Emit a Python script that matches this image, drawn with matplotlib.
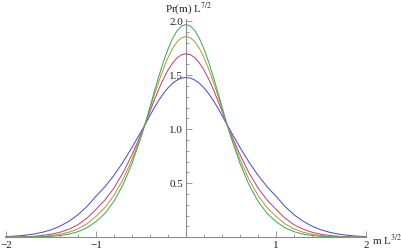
# Pr(m) curves for several sizes, Mathematica-style axes through the origin

import numpy
import matplotlib
matplotlib.use("Agg")
import matplotlib.pyplot as plt

plt.rcParams["font.family"] = ["Liberation Serif", "DejaVu Serif"]
plt.rcParams["mathtext.fontset"] = "stix"

m = [-2.0, -1.9, -1.8, -1.7, -1.6, -1.5, -1.4, -1.3, -1.2, -1.1, -1.0,
     -0.9, -0.8, -0.7, -0.6, -0.5, -0.45, -0.4, -0.35, -0.3, -0.25, -0.2,
     -0.15, -0.1, -0.05, 0.0, 0.05, 0.1, 0.15, 0.2, 0.25, 0.3, 0.35, 0.4,
     0.45, 0.5, 0.6, 0.7, 0.8, 0.9, 1.0, 1.1, 1.2, 1.3, 1.4, 1.5, 1.6, 1.7,
     1.8, 1.9, 2.0]

pr_blue = [0.0064, 0.0109, 0.018, 0.029, 0.0455, 0.069, 0.103, 0.149, 0.209,
           0.2855, 0.380, 0.469, 0.574, 0.696, 0.832, 0.977, 1.051, 1.129,
           1.203, 1.271, 1.332, 1.383, 1.425, 1.455, 1.474, 1.48, 1.474,
           1.455, 1.425, 1.383, 1.332, 1.271, 1.203, 1.129, 1.051, 0.977,
           0.832, 0.696, 0.574, 0.469, 0.380, 0.2855, 0.209, 0.149, 0.103,
           0.069, 0.0455, 0.029, 0.018, 0.0109, 0.0064]

pr_purple = [0.0013, 0.0025, 0.0049, 0.0090, 0.0163, 0.0283, 0.0469, 0.0753,
             0.117, 0.1775, 0.259, 0.346, 0.457, 0.597, 0.764, 0.955, 1.056,
             1.167, 1.275, 1.376, 1.468, 1.548, 1.612, 1.661, 1.690, 1.70,
             1.690, 1.661, 1.612, 1.548, 1.468, 1.376, 1.275, 1.167, 1.056,
             0.955, 0.764, 0.597, 0.457, 0.346, 0.259, 0.1775, 0.117, 0.0753,
             0.0469, 0.0283, 0.0163, 0.0090, 0.0049, 0.0025, 0.0013]

pr_orange = [0.0005, 0.0011, 0.0022, 0.0045, 0.0087, 0.0161, 0.0281, 0.0475,
             0.0783, 0.125, 0.194, 0.276, 0.388, 0.535, 0.720, 0.939, 1.059,
             1.192, 1.323, 1.448, 1.563, 1.664, 1.747, 1.809, 1.847, 1.86,
             1.847, 1.809, 1.747, 1.664, 1.563, 1.448, 1.323, 1.192, 1.059,
             0.939, 0.720, 0.535, 0.388, 0.276, 0.194, 0.125, 0.0783, 0.0475,
             0.0281, 0.0161, 0.0087, 0.0045, 0.0022, 0.0011, 0.0005]

pr_green = [0.0002, 0.0005, 0.0010, 0.0022, 0.0045, 0.0089, 0.0164, 0.0296,
            0.0519, 0.0881, 0.145, 0.222, 0.334, 0.486, 0.684, 0.926, 1.060,
            1.207, 1.354, 1.496, 1.627, 1.743, 1.839, 1.911, 1.955, 1.97,
            1.955, 1.911, 1.839, 1.743, 1.627, 1.496, 1.354, 1.207, 1.060,
            0.926, 0.684, 0.486, 0.334, 0.222, 0.145, 0.0881, 0.0519, 0.0296,
            0.0164, 0.0089, 0.0045, 0.0022, 0.0010, 0.0005, 0.0002]

x_ticks = [-2, -1, 1, 2]
x_labels = ["\u22122", "\u22121", "1", "2"]
y_ticks = [0.5, 1.0, 1.5, 2.0]
y_labels = ["0.5", "1.0", "1.5", "2.0"]

fig = plt.figure(figsize=(4.01, 2.52), dpi=100)
ax = fig.add_axes([6 / 401, 14.7 / 252, 360 / 401, 218.2 / 252])

for vals, col in [(pr_blue, "#5151c4"), (pr_purple, "#c2467f"),
                  (pr_orange, "#b79b3f"), (pr_green, "#45a860")]:
    ax.plot(m, vals, color=col, lw=0.75, clip_on=False)

ax.set_xlim(-2, 2)
ax.set_ylim(0, 2.02)

axis_col = "#8c8c8c"
for side in ["top", "right"]:
    ax.spines[side].set_visible(False)
ax.spines["left"].set_position(("data", 0))
ax.spines["bottom"].set_position(("data", 0))
for side in ["left", "bottom"]:
    ax.spines[side].set_color(axis_col)
    ax.spines[side].set_linewidth(0.8)

ax.set_xticks(x_ticks)
ax.set_xticklabels(x_labels)
ax.set_xticks([v / 5 for v in range(-10, 11) if v % 5 != 0], minor=True)
ax.set_yticks(y_ticks)
ax.set_yticklabels(y_labels)
ax.set_yticks([v / 10 for v in range(1, 21) if v % 5 != 0], minor=True)

ax.tick_params(which="both", direction="in", color=axis_col, width=0.6,
               labelsize=8, labelcolor="#222222")
ax.tick_params(which="major", length=4.5)
ax.tick_params(which="minor", length=2.5)
ax.tick_params(axis="x", pad=3)
ax.tick_params(axis="y", pad=2)

fig.text(165 / 401, 1 - 9 / 252, r"Pr(m) L$^{7/2}$", fontsize=8,
         ha="left", va="center", color="#222222")
fig.text(372 / 401, 1 - 240 / 252, r"m L$^{3/2}$", fontsize=8,
         ha="left", va="center", color="#222222")

fig.savefig("out.png", dpi=100)
